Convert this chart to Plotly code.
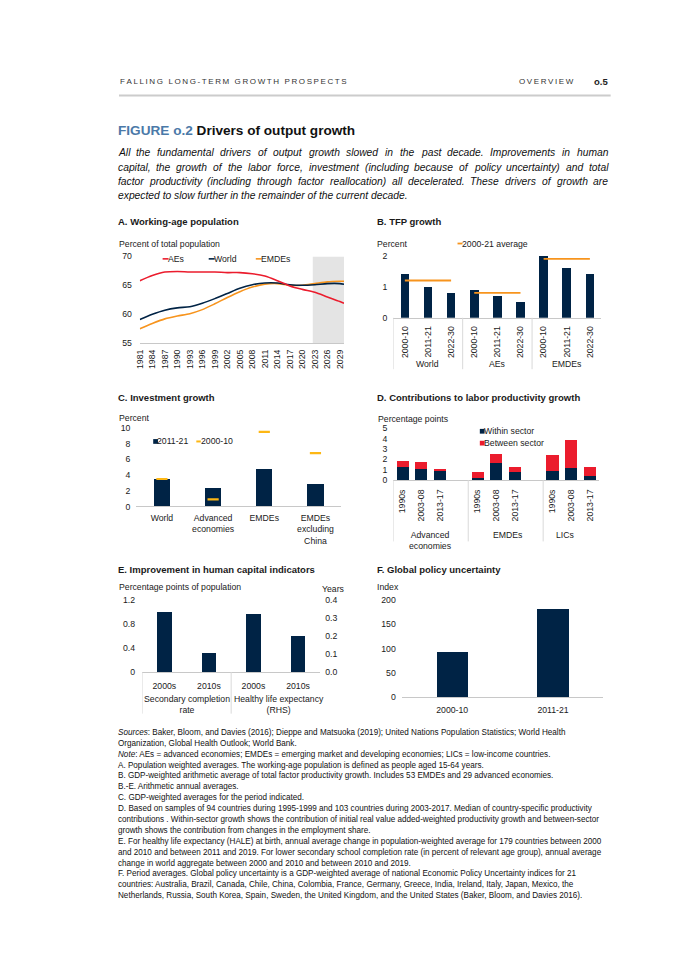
import plotly.graph_objects as go

W, H = 688, 972
FONT = "Liberation Sans, Arial, Helvetica, sans-serif"
NAVY = "#002345"
RED = "#eb1c2d"
ORANGE = "#f7941d"
GOLD = "#fdb714"
AXC = "#c8c8c8"
DIV = "#d9d9d9"
TXT = "#1a1a1a"
TS = 8.7  # tick font size

# ---------------- Data ----------------
# A. Working-age population (percent of total population)
a_years = [1981, 1984, 1987, 1990, 1993, 1996, 1999, 2002, 2005, 2008, 2011, 2014, 2017, 2020, 2023, 2026, 2029, 2030]
a_aes = [65.8, 66.7, 67.3, 67.4, 67.3, 67.3, 67.3, 67.2, 67.2, 67.0, 66.6, 65.8, 64.9, 64.3, 63.8, 63.0, 62.2, 61.9]
a_world = [59.1, 60.0, 60.7, 61.1, 61.3, 61.9, 62.7, 63.6, 64.5, 65.1, 65.4, 65.4, 65.1, 65.0, 65.1, 65.3, 65.3, 65.2]
a_emdes = [57.5, 58.4, 59.2, 59.7, 60.1, 60.8, 61.8, 62.9, 63.9, 64.7, 65.2, 65.3, 65.0, 65.0, 65.3, 65.6, 65.7, 65.7]
a_tick_years = list(range(1981, 2030, 3))
a_forecast = [2022.5, 2030]

# B. TFP growth (percent)
b_groups = ["World", "AEs", "EMDEs"]
b_periods = ["2000-10", "2011-21", "2022-30"]
b_tfp = [[1.4, 1.0, 0.8], [0.9, 0.7, 0.5], [2.0, 1.6, 1.4]]
b_avg = [1.2, 0.8, 1.9]

# C. Investment growth (percent)
c_cats = ["World", "Advanced<br>economies", "EMDEs", "EMDEs<br>excluding<br>China"]
c_2011_21 = [3.5, 2.4, 4.8, 2.9]
c_2000_10 = [3.5, 0.9, 9.5, 6.8]

# D. Contributions to labor productivity growth (percentage points)
d_groups = ["Advanced<br>economies", "EMDEs", "LICs"]
d_periods = ["1990s", "2003-08", "2013-17"]
d_within = [[1.3, 1.05, 0.9], [0.2, 1.6, 0.75], [0.85, 1.15, 0.4]]
d_between = [[0.5, 0.65, 0.15], [0.6, 0.9, 0.5], [1.55, 2.75, 0.85]]

# E. Human capital indicators
e_groups = ["Secondary completion<br>rate", "Healthy life expectancy<br>(RHS)"]
e_periods = ["2000s", "2010s"]
e_secondary = [1.0, 0.32]   # percentage points of population (LHS)
e_hale = [0.32, 0.2]        # years (RHS)

# F. Global policy uncertainty (index)
f_periods = ["2000-10", "2011-21"]
f_index = [93, 182]

# Arial / Liberation Sans advance widths (per 1000 em) for text justification
AW = {' ': 278, '!': 278, '"': 355, '#': 556, '$': 556, '%': 889, '&': 667, "'": 191, '(': 333, ')': 333,
      '*': 389, '+': 584, ',': 278, '-': 333, '.': 278, '/': 278, ':': 278, ';': 278, '?': 556,
      'A': 667, 'B': 667, 'C': 722, 'D': 722, 'E': 667, 'F': 611, 'G': 778, 'H': 722, 'I': 278, 'J': 500,
      'K': 667, 'L': 556, 'M': 833, 'N': 722, 'O': 778, 'P': 667, 'Q': 778, 'R': 722, 'S': 667, 'T': 611,
      'U': 722, 'V': 667, 'W': 944, 'X': 667, 'Y': 667, 'Z': 611,
      'a': 556, 'b': 556, 'c': 500, 'd': 556, 'e': 556, 'f': 278, 'g': 556, 'h': 556, 'i': 222, 'j': 222,
      'k': 500, 'l': 222, 'm': 833, 'n': 556, 'o': 556, 'p': 556, 'q': 556, 'r': 333, 's': 500, 't': 278,
      'u': 556, 'v': 500, 'w': 722, 'x': 500, 'y': 500, 'z': 500}


def tw(s, size):
    return sum(AW.get(c, 556) for c in s) / 1000.0 * size


def px(x):
    return x / W


def py(y):
    return 1 - y / H


def xax(l, r, anchor, **kw):
    d = dict(domain=[px(l), px(r)], anchor=anchor, showgrid=False, zeroline=False,
             showline=True, linecolor=AXC, linewidth=1, ticks="",
             tickfont=dict(size=TS, color=TXT, family=FONT), fixedrange=True)
    d.update(kw)
    return d


def yax(bottom, top, anchor, rng, **kw):
    d = dict(domain=[py(bottom), py(top)], anchor=anchor, range=rng, showgrid=False,
             zeroline=False, showline=False, ticks="",
             tickfont=dict(size=TS, color=TXT, family=FONT), fixedrange=True)
    d.update(kw)
    return d


fig = go.Figure()
ann = []
shapes = []
PAD = 3.5  # annotation internal offset correction


def text(t, x, y, size=TS, xanchor="left", yanchor="middle", color=TXT, xref="paper", align="left"):
    if xref == "paper":
        if xanchor == "left":
            x = x - PAD
        elif xanchor == "right":
            x = x + PAD
        xv = px(x)
    else:
        xv = x
    ann.append(dict(text=t, x=xv, y=py(y), xref=xref, yref="paper", xanchor=xanchor, yanchor=yanchor,
                    showarrow=False, align=align, font=dict(size=size, color=color, family=FONT)))


def hline_px(x0, x1, y, color, width):
    shapes.append(dict(type="line", xref="paper", yref="paper", x0=px(x0), x1=px(x1), y0=py(y), y1=py(y),
                       line=dict(color=color, width=width)))


def square_px(x, y, s, color):
    shapes.append(dict(type="rect", xref="paper", yref="paper", x0=px(x), x1=px(x + s), y0=py(y + s / 2),
                       y1=py(y - s / 2), fillcolor=color, line=dict(width=0)))


# ---------------- Panel A ----------------
for yv, col in [(a_emdes, ORANGE), (a_world, NAVY), (a_aes, RED)]:
    fig.add_trace(go.Scatter(x=a_years, y=yv, mode="lines", xaxis="x", yaxis="y",
                             line=dict(color=col, width=1.6, shape="spline", smoothing=0.8),
                             hoverinfo="skip"))
shapes.append(dict(type="rect", xref="x", yref="y", x0=a_forecast[0], x1=a_forecast[1], y0=55, y1=70,
                   fillcolor="#e4e4e4", line=dict(width=0), layer="below"))

# ---------------- Panel B ----------------
b_pos = [g * 3 + p for g in range(3) for p in range(3)]
b_vals = [v for row in b_tfp for v in row]
fig.add_trace(go.Bar(x=b_pos, y=b_vals, width=0.37, marker=dict(color=NAVY, line=dict(width=0)),
                     xaxis="x2", yaxis="y2", hoverinfo="skip"))
for g in range(3):
    fig.add_trace(go.Scatter(x=[g * 3 + p for p in range(3)], y=[b_avg[g]] * 3, mode="lines",
                             line=dict(color=ORANGE, width=1.8), xaxis="x2", yaxis="y2", hoverinfo="skip"))
    text(b_groups[g], g * 3 + 1, 362.5, xanchor="center", xref="x2")
    shapes.append(dict(type="line", xref="x2", yref="paper", x0=g * 3 - 0.5, x1=g * 3 - 0.5,
                       y0=py(316), y1=py(368), line=dict(color=DIV, width=1)))

# ---------------- Panel C ----------------
fig.add_trace(go.Bar(x=c_cats, y=c_2011_21, width=0.32, marker=dict(color=NAVY, line=dict(width=0)),
                     xaxis="x3", yaxis="y3", hoverinfo="skip"))
fig.add_trace(go.Scatter(x=c_cats, y=c_2000_10, mode="markers", xaxis="x3", yaxis="y3", hoverinfo="skip",
                         marker=dict(symbol="line-ew", size=8, line=dict(color=GOLD, width=2.2))))

# ---------------- Panel D ----------------
d_pos = [g * 4 + p for g in range(3) for p in range(3)]
fig.add_trace(go.Bar(x=d_pos, y=[v for r in d_within for v in r], width=0.65,
                     marker=dict(color=NAVY, line=dict(width=0)), xaxis="x4", yaxis="y4", hoverinfo="skip"))
fig.add_trace(go.Bar(x=d_pos, y=[v for r in d_between for v in r], width=0.65,
                     marker=dict(color=RED, line=dict(width=0)), xaxis="x4", yaxis="y4", hoverinfo="skip"))
d_label_at = [1.5, 5.6, 8.7]
for g in range(3):
    text(d_groups[g], d_label_at[g], 528, xanchor="center", yanchor="top", xref="x4", align="center")
    shapes.append(dict(type="line", xref="x4", yref="paper", x0=g * 4 - 0.5, x1=g * 4 - 0.5,
                       y0=py(480), y1=py(542), line=dict(color=DIV, width=1)))

# ---------------- Panel E ----------------
fig.add_trace(go.Bar(x=[0, 1], y=e_secondary, width=0.33, marker=dict(color=NAVY, line=dict(width=0)),
                     xaxis="x5", yaxis="y5", hoverinfo="skip"))
fig.add_trace(go.Bar(x=[2, 3], y=e_hale, width=0.33, marker=dict(color=NAVY, line=dict(width=0)),
                     xaxis="x5", yaxis="y6", hoverinfo="skip"))
e_label_at = [0.5, 2.58]
for i, lab in enumerate(e_groups):
    text(lab, e_label_at[i], 694.5, xanchor="center", yanchor="top", xref="x5", align="center")
    shapes.append(dict(type="line", xref="x5", yref="paper", x0=i * 2 - 0.5, x1=i * 2 - 0.5,
                       y0=py(674), y1=py(716), line=dict(color=DIV, width=1)))

# ---------------- Panel F ----------------
fig.add_trace(go.Bar(x=f_periods, y=f_index, width=0.31, marker=dict(color=NAVY, line=dict(width=0)),
                     xaxis="x6", yaxis="y7", hoverinfo="skip"))

# ---------------- Layout / axes ----------------
layout = dict(
    width=W, height=H, margin=dict(l=0, r=0, t=0, b=0), paper_bgcolor="white", plot_bgcolor="rgba(0,0,0,0)",
    showlegend=False, barmode="stack", font=dict(family=FONT, color=TXT, size=TS),
    xaxis=xax(136, 342, "y", range=[1981, 2030], tickvals=a_tick_years, ticktext=[str(y) for y in a_tick_years],
              tickangle=-90, ticklabelstandoff=2),
    yaxis=yax(341.7, 254, "x", [55, 70], tickvals=[55, 60, 65, 70], ticklabelstandoff=7),
    xaxis2=xax(391.7, 601.7, "y2", range=[-0.5, 8.5], tickvals=b_pos, ticktext=b_periods * 3, tickangle=-90,
               ticklabelstandoff=4),
    yaxis2=yax(316, 253.3, "x2", [0, 2], tickvals=[0, 1, 2], ticklabelstandoff=5),
    xaxis3=xax(132.5, 339, "y3", type="category", ticklabelstandoff=3),
    yaxis3=yax(506.7, 427.3, "x3", [0, 10], tickvals=[0, 2, 4, 6, 8, 10], ticklabelstandoff=5),
    xaxis4=xax(391.7, 599.6, "y4", range=[-0.5, 10.5], tickvals=d_pos, ticktext=d_periods * 3, tickangle=-90,
               ticklabelstandoff=5),
    yaxis4=yax(480, 427.7, "x4", [0, 5], tickvals=[0, 1, 2, 3, 4, 5], ticklabelstandoff=5),
    xaxis5=xax(138.3, 318, "y5", range=[-0.5, 3.5], tickvals=[0, 1, 2, 3], ticktext=e_periods * 2,
               ticklabelstandoff=5),
    yaxis5=yax(674, 601, "x5", [0, 1.2], tickvals=[0, 0.4, 0.8, 1.2], ticktext=["0", "0.4", "0.8", "1.2"],
               ticklabelstandoff=6),
    yaxis6=yax(674, 601, "x5", [0, 0.4], overlaying="y5", side="right", tickvals=[0, 0.1, 0.2, 0.3, 0.4],
               tickformat=".1f", ticklabelstandoff=4),
    xaxis6=xax(400.25, 603.75, "y7", type="category", ticklabelstandoff=4),
    yaxis7=yax(699.3, 601, "x6", [0, 200], tickvals=[0, 50, 100, 150, 200], ticklabelstandoff=5),
)

# ---------------- Header / titles ----------------
THIN = "\u2009"
text(THIN.join("FALLING LONG-TERM GROWTH PROSPECTS"), 117, 77, size=8, color="#333333")
text(THIN.join("OVERVIEW"), 520, 77, size=8, color="#333333")
text("<b>o.5</b>", 595.5, 77, size=9.5, color="#222222")
hline_px(115, 611, 91.5, "#cccccc", 2)

text("<b><span style='color:#4b79a8'>FIGURE o.2</span> Drivers of output growth</b>", 115, 127, size=13.6,
     color="#111111")

# Justified italic lead paragraph
para = [
    "All the fundamental drivers of output growth slowed in the past decade. Improvements in human",
    "capital, the growth of the labor force, investment (including because of policy uncertainty) and total",
    "factor productivity (including through factor reallocation) all decelerated. These drivers of growth are",
    "expected to slow further in the remainder of the current decade.",
]
PS = 10.3
P_L, P_R = 115, 610
for i, line in enumerate(para):
    yline = 149.5 + i * 14.4
    if i < len(para) - 1:
        words = line.split(" ")
        total = sum(tw(w, PS) for w in words)
        gap = (P_R - P_L - total) / (len(words) - 1)
        xw = P_L
        for w in words:
            text("<i>" + w + "</i>", xw, yline, size=PS, color="#111111")
            xw += tw(w, PS) + gap
    else:
        text("<i>" + line + "</i>", P_L, yline, size=PS, color="#111111")

PT = 9.5
text("<b>A. Working-age population</b>", 115, 218.5, size=PT)
text("<b>B. TFP growth</b>", 376.5, 218.5, size=PT)
text("<b>C. Investment growth</b>", 115, 396.5, size=PT)
text("<b>D. Contributions to labor productivity growth</b>", 376.5, 396.5, size=PT)
text("<b>E. Improvement in human capital indicators</b>", 115, 570.5, size=PT)
text("<b>F. Global policy uncertainty</b>", 376.5, 570.5, size=PT)

text("Percent of total population", 116, 241)
text("Percent", 377, 241)
text("Percent", 116, 417)
text("Percentage points", 378, 418)
text("Percentage points of population", 116, 588)
text("Years", 342, 590, xanchor="right")
text("Index", 377, 588)

# ---------------- Legends ----------------
hline_px(159, 165, 256.5, RED, 1.6)
text("AEs", 165.5, 256.5)
hline_px(205.5, 211.5, 256.5, NAVY, 1.6)
text("World", 212, 256.5)
hline_px(253, 259, 256.5, ORANGE, 1.6)
text("EMDEs", 259.5, 256.5)

hline_px(456.5, 461.5, 241, ORANGE, 1.8)
text("2000-21 average", 462, 241)

square_px(149.5, 441, 4.8, NAVY)
text("2011-21", 155, 441)
hline_px(193, 197.5, 441, GOLD, 2)
text("2000-10", 199, 441)

square_px(479, 430.7, 4.8, NAVY)
text("Within sector", 485, 430.7)
square_px(479, 442.7, 4.8, RED)
text("Between sector", 485, 442.7)

# ---------------- Notes ----------------
notes = [
    "<i>Sources</i>: Baker, Bloom, and Davies (2016); Dieppe and Matsuoka (2019); United Nations Population Statistics; World Health",
    "Organization, Global Health Outlook; World Bank.",
    "<i>Note</i>: AEs = advanced economies; EMDEs = emerging market and developing economies; LICs = low-income countries.",
    "A. Population weighted averages. The working-age population is defined as people aged 15-64 years.",
    "B. GDP-weighted arithmetic average of total factor productivity growth. Includes 53 EMDEs and 29 advanced economies.",
    "B.-E. Arithmetic annual averages.",
    "C. GDP-weighted averages for the period indicated.",
    "D. Based on samples of 94 countries during 1995-1999 and 103 countries during 2003-2017. Median of country-specific productivity",
    "contributions . Within-sector growth shows the contribution of initial real value added-weighted productivity growth and between-sector",
    "growth shows the contribution from changes in the employment share.",
    "E. For healthy life expectancy (HALE) at birth, annual average change in population-weighted average for 179 countries between 2000",
    "and 2010 and between 2011 and 2019. For lower secondary school completion rate (in percent of relevant age group), annual average",
    "change in world aggregate between 2000 and 2010 and between 2010 and 2019.",
    "F. Period averages. Global policy uncertainty is a GDP-weighted average of national Economic Policy Uncertainty indices for 21",
    "countries: Australia, Brazil, Canada, Chile, China, Colombia, France, Germany, Greece, India, Ireland, Italy, Japan, Mexico, the",
    "Netherlands, Russia, South Korea, Spain, Sweden, the United Kingdom, and the United States (Baker, Bloom, and Davies 2016).",
]
for i, line in enumerate(notes):
    text(line, 115, 735 + i * 11, size=8.15, color="#111111")

layout["annotations"] = ann
layout["shapes"] = shapes
fig.update_layout(**layout)

fig.write_html("out.html", config={"displayModeBar": False, "staticPlot": True},
               post_script="document.body.style.margin='0';document.body.style.overflow='hidden';")
